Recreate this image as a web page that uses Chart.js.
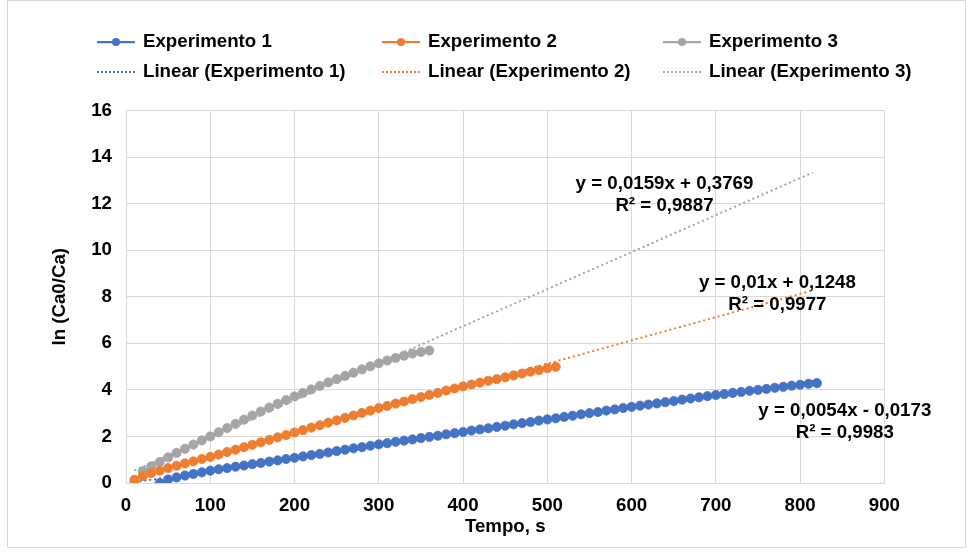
<!DOCTYPE html>
<html>
<head>
<meta charset="utf-8">
<script src="https://cdn.jsdelivr.net/npm/chart.js@4.4.1/dist/chart.umd.min.js"></script>
<style>
  html, body { margin: 0; padding: 0; background: #fff; }
  #wrap { position: relative; width: 974px; height: 555px; }
</style>
</head>
<body>
<div id="wrap"><canvas id="chart" width="974" height="555"></canvas></div>
<script>
// values
const exp1Time = [40, 50, 60, 70, 80, 90, 100, 110, 120, 130, 140, 150, 160, 170, 180, 190, 200,
  210, 220, 230, 240, 250, 260, 270, 280, 290, 300, 310, 320, 330, 340, 350, 360, 370, 380, 390, 400,
  410, 420, 430, 440, 450, 460, 470, 480, 490, 500, 510, 520, 530, 540, 550, 560, 570, 580, 590, 600,
  610, 620, 630, 640, 650, 660, 670, 680, 690, 700, 710, 720, 730, 740, 750, 760, 770, 780, 790, 800,
  810, 820];
const exp1Values = [0.00, 0.15, 0.24, 0.32, 0.39, 0.46, 0.53, 0.59, 0.64, 0.70, 0.75, 0.81, 0.86, 0.92, 0.97, 1.03, 1.08,
  1.14, 1.20, 1.25, 1.31, 1.37, 1.43, 1.49, 1.54, 1.60, 1.66, 1.71, 1.77, 1.82, 1.87, 1.93, 1.98, 2.03, 2.09, 2.14, 2.19,
  2.25, 2.30, 2.35, 2.41, 2.46, 2.52, 2.57, 2.62, 2.68, 2.73, 2.78, 2.84, 2.89, 2.95, 3.00, 3.05, 3.11, 3.16, 3.22, 3.27,
  3.32, 3.37, 3.42, 3.47, 3.52, 3.58, 3.63, 3.68, 3.73, 3.78, 3.82, 3.87, 3.91, 3.96, 4.00, 4.04, 4.09, 4.13, 4.18, 4.22,
  4.26, 4.29];

const exp2Time = [10, 20, 30, 40, 50, 60, 70, 80, 90, 100, 110, 120, 130, 140, 150, 160, 170, 180, 190, 200,
  210, 220, 230, 240, 250, 260, 270, 280, 290, 300, 310, 320, 330, 340, 350, 360, 370, 380, 390, 400,
  410, 420, 430, 440, 450, 460, 470, 480, 490, 500, 510];
const exp2Values = [0.14, 0.30, 0.42, 0.53, 0.64, 0.74, 0.84, 0.93, 1.03, 1.12, 1.22, 1.33, 1.43, 1.54, 1.64, 1.75, 1.85, 1.96, 2.06, 2.17,
  2.27, 2.38, 2.48, 2.59, 2.69, 2.80, 2.90, 3.01, 3.11, 3.22, 3.31, 3.41, 3.50, 3.60, 3.69, 3.78, 3.87, 3.97, 4.06, 4.15,
  4.23, 4.31, 4.39, 4.46, 4.54, 4.62, 4.70, 4.78, 4.85, 4.93, 4.99];

const exp3Time = [10, 20, 30, 40, 50, 60, 70, 80, 90, 100, 110, 120, 130, 140, 150, 160, 170, 180, 190, 200,
  210, 220, 230, 240, 250, 260, 270, 280, 290, 300, 310, 320, 330, 340, 350, 360];
const exp3Values = [0.00, 0.50, 0.72, 0.90, 1.10, 1.29, 1.47, 1.65, 1.83, 2.00, 2.18, 2.36, 2.54, 2.72, 2.90, 3.07, 3.24, 3.40, 3.56, 3.72,
  3.87, 4.02, 4.17, 4.32, 4.46, 4.60, 4.74, 4.88, 5.01, 5.14, 5.26, 5.37, 5.47, 5.56, 5.63, 5.69];

// trendline end points
const trend1Time = [10, 820];
const trend1Values = [0.037, 4.411];
const trend2Time = [10, 815];
const trend2Values = [0.225, 8.275];
const trend3Time = [10, 815];
const trend3Values = [0.536, 13.335];

const seriesNames = ['Experimento 1', 'Experimento 2', 'Experimento 3'];
const trendNames = ['Linear (Experimento 1)', 'Linear (Experimento 2)', 'Linear (Experimento 3)'];
const equations = [
  ['y = 0,0054x - 0,0173', 'R\u00b2 = 0,9983'],
  ['y = 0,01x + 0,1248', 'R\u00b2 = 0,9977'],
  ['y = 0,0159x + 0,3769', 'R\u00b2 = 0,9887']
];
// where each equation label sits (data coordinates of its first line centre)
const equationAnchorX = [853, 773, 639];
const equationAnchorY = [3.10, 8.60, 12.85];

const xTicks = [0, 100, 200, 300, 400, 500, 600, 700, 800, 900];
const yTicks = [0, 2, 4, 6, 8, 10, 12, 14, 16];

const colors = ['#4472C4', '#ED7D31', '#A5A5A5'];
const FONT = "'Liberation Sans', Arial, sans-serif";
const FONT_SIZE = 18.7;

function pairs(xs, ys) {
  return xs.map((x, i) => ({ x: x, y: ys[i] }));
}

const seriesData = [pairs(exp1Time, exp1Values), pairs(exp2Time, exp2Values), pairs(exp3Time, exp3Values)];
const trendData = [pairs(trend1Time, trend1Values), pairs(trend2Time, trend2Values), pairs(trend3Time, trend3Values)];

const datasets = [];
seriesNames.forEach((name, i) => {
  datasets.push({
    label: name,
    data: seriesData[i],
    showLine: true,
    borderColor: colors[i],
    backgroundColor: colors[i],
    borderWidth: 2.25,
    pointRadius: 4.6,
    pointBorderWidth: 0.8,
    pointBorderColor: colors[i],
    pointBackgroundColor: colors[i],
    order: 1
  });
});
trendNames.forEach((name, i) => {
  datasets.push({
    label: name,
    data: trendData[i],
    showLine: true,
    borderColor: colors[i],
    borderWidth: 2,
    borderDash: [2, 3],
    pointRadius: 0,
    order: 2
  });
});

// legend drawn by hand so the three columns line up like the original
const legendPlugin = {
  id: 'customLegend',
  afterDraw(chart) {
    const ctx = chart.ctx;
    const colX = [97, 382, 663];
    const rowY = [42, 72];
    ctx.save();
    ctx.font = 'bold ' + FONT_SIZE + 'px ' + FONT;
    ctx.textBaseline = 'middle';
    ctx.textAlign = 'left';
    for (let i = 0; i < 3; i++) {
      // series entry
      let x = colX[i], y = rowY[0];
      ctx.strokeStyle = colors[i];
      ctx.lineWidth = 2.25;
      ctx.setLineDash([]);
      ctx.beginPath();
      ctx.moveTo(x, y);
      ctx.lineTo(x + 38, y);
      ctx.stroke();
      ctx.fillStyle = colors[i];
      ctx.beginPath();
      ctx.arc(x + 19, y, 4, 0, Math.PI * 2);
      ctx.fill();
      ctx.fillStyle = '#000';
      ctx.fillText(seriesNames[i], x + 46, y);
      // trendline entry
      y = rowY[1];
      ctx.strokeStyle = colors[i];
      ctx.lineWidth = 2;
      ctx.setLineDash([2, 2]);
      ctx.beginPath();
      ctx.moveTo(x, y);
      ctx.lineTo(x + 38, y);
      ctx.stroke();
      ctx.setLineDash([]);
      ctx.fillStyle = '#000';
      ctx.fillText(trendNames[i], x + 46, y);
    }
    ctx.restore();
  }
};

const equationPlugin = {
  id: 'equations',
  afterDatasetsDraw(chart) {
    const ctx = chart.ctx;
    const xs = chart.scales.x, ys = chart.scales.y;
    ctx.save();
    ctx.font = 'bold ' + FONT_SIZE + 'px ' + FONT;
    ctx.fillStyle = '#000';
    ctx.textAlign = 'center';
    ctx.textBaseline = 'middle';
    equations.forEach((lines, i) => {
      const px = xs.getPixelForValue(equationAnchorX[i]);
      const py = ys.getPixelForValue(equationAnchorY[i]);
      lines.forEach((t, k) => ctx.fillText(t, px, py + k * 22));
    });
    ctx.restore();
  }
};

const framePlugin = {
  id: 'frame',
  afterDraw(chart) {
    const ctx = chart.ctx;
    ctx.save();
    ctx.strokeStyle = '#d9d9d9';
    ctx.lineWidth = 1;
    ctx.strokeRect(7.5, 0.5, 958, 547);
    ctx.restore();
  }
};

Chart.defaults.font.family = FONT;
Chart.defaults.font.size = FONT_SIZE;
Chart.defaults.font.weight = 'bold';
Chart.defaults.color = '#000';

new Chart(document.getElementById('chart').getContext('2d'), {
  type: 'scatter',
  data: { datasets },
  options: {
    responsive: false,
    animation: false,
    layout: { padding: { top: 110.5, right: 89.6, left: 0, bottom: 0 } },
    plugins: {
      legend: { display: false },
      tooltip: { enabled: false }
    },
    scales: {
      x: {
        type: 'linear',
        min: 0,
        max: 900,
        afterBuildTicks(scale) { scale.ticks = xTicks.map(v => ({ value: v })); },
        afterFit(scale) { scale.height = 72; },
        ticks: { padding: 12, font: { weight: 'bold', size: FONT_SIZE } },
        grid: { color: '#d9d9d9', drawTicks: false },
        border: { color: '#d9d9d9' },
        title: {
          display: true,
          text: 'Tempo, s',
          padding: { top: 0, bottom: 17 },
          font: { weight: 'bold', size: FONT_SIZE }
        }
      },
      y: {
        type: 'linear',
        min: 0,
        max: 16,
        afterBuildTicks(scale) { scale.ticks = yTicks.map(v => ({ value: v })); },
        afterFit(scale) { scale.width = 126; },
        ticks: { padding: 14, font: { weight: 'bold', size: FONT_SIZE } },
        grid: { color: '#d9d9d9', drawTicks: false },
        border: { color: '#d9d9d9' },
        title: {
          display: true,
          text: 'ln (Ca0/Ca)',
          padding: { top: 49, bottom: 0 },
          font: { weight: 'bold', size: FONT_SIZE }
        }
      }
    }
  },
  plugins: [legendPlugin, equationPlugin, framePlugin]
});
</script>
</body>
</html>
